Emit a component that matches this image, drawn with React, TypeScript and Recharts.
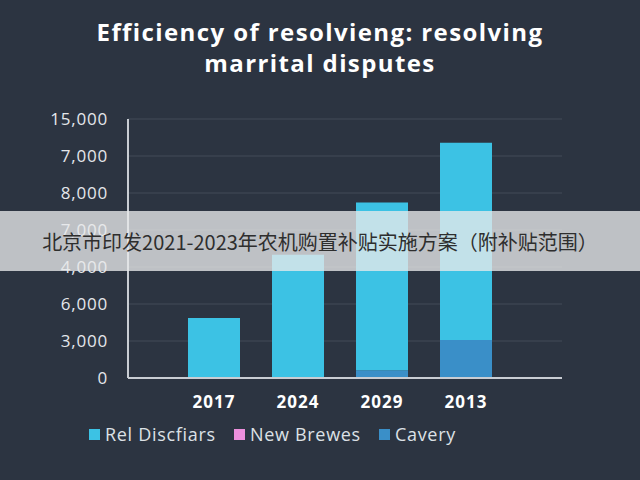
import React from "react";
import {
  BarChart,
  Bar,
  XAxis,
  YAxis,
  CartesianGrid,
} from "recharts";

const years = ["2017", "2024", "2029", "2013"];
const relDiscfiars = [1.62, 3.33, 4.53, 5.33];
const newBrewes = [0, 0, 0, 0];
const cavery = [0, 0, 0.21, 1.03];
const yTickLabels = ["0", "3,000", "6,000", "4,000", "7,000", "8,000", "7,000", "15,000"];

const series = [
  { key: "relDiscfiars", name: "Rel Discfiars", color: "#3cc2e4" },
  { key: "newBrewes", name: "New Brewes", color: "#ec8fdc" },
  { key: "cavery", name: "Cavery", color: "#3a8fc8" },
];

const data = years.map((year, i) => ({
  year,
  cavery: cavery[i],
  newBrewes: newBrewes[i],
  relDiscfiars: relDiscfiars[i],
}));

const BG = "#2c3441";
const FONT = "'Open Sans', 'DejaVu Sans', sans-serif";

export default function App() {
  return (
    <div
      style={{
        position: "fixed",
        top: 0,
        left: 0,
        width: 640,
        height: 480,
        background: BG,
        fontFamily: FONT,
        overflow: "hidden",
      }}
    >
      <div
        style={{
          position: "absolute",
          top: 16,
          left: 0,
          width: 640,
          textAlign: "center",
          color: "#ffffff",
          fontWeight: 700,
          fontSize: 24,
          letterSpacing: 1.4,
          lineHeight: "31px",
        }}
      >
        Efficiency of resolvieng: resolving
        <br />
        marrital disputes
      </div>

      <BarChart
        width={640}
        height={480}
        data={data}
        margin={{ top: 119, right: 78, left: 0, bottom: 72 }}
        barSize={52}
      >
        <CartesianGrid vertical={false} stroke="#424b59" strokeWidth={1} />
        <XAxis
          dataKey="year"
          height={30}
          padding={{ left: 44, right: 54 }}
          stroke="#c9cdd3"
          strokeWidth={2}
          tickLine={false}
          tickSize={0}
          tickMargin={18}
          tick={{
            fill: "#ffffff",
            fontSize: 17,
            fontWeight: 700,
            fontFamily: FONT,
            letterSpacing: 1,
          }}
        />
        <YAxis
          width={128}
          domain={[0, 7]}
          ticks={[0, 1, 2, 3, 4, 5, 6, 7]}
          tickFormatter={(v: number) => yTickLabels[v]}
          stroke="#c9cdd3"
          strokeWidth={2}
          tickLine={false}
          tickSize={0}
          tickMargin={20}
          tick={{ fill: "#e4e7eb", fontSize: 17, fontFamily: FONT, letterSpacing: 0.8 }}
        />
        {[...series].reverse().map((s) => (
          <Bar
            key={s.key}
            dataKey={s.key}
            name={s.name}
            stackId="a"
            fill={s.color}
            isAnimationActive={false}
          />
        ))}
      </BarChart>

      <div
        style={{
          position: "absolute",
          top: 422,
          left: 89,
          display: "flex",
          alignItems: "center",
          color: "#dde1e6",
          fontSize: 18,
          letterSpacing: 0.7,
        }}
      >
        {series.map((s) => (
          <div
            key={s.key}
            style={{ display: "flex", alignItems: "center", marginRight: 18 }}
          >
            <span
              style={{
                display: "inline-block",
                width: 11,
                height: 11,
                background: s.color,
                marginRight: 5,
              }}
            />
            {s.name}
          </div>
        ))}
      </div>

      <div
        style={{
          position: "absolute",
          top: 211,
          left: 0,
          width: 640,
          height: 60,
          background: "rgba(232, 233, 235, 0.78)",
          display: "flex",
          alignItems: "center",
          justifyContent: "center",
          color: "#2e2e2e",
          fontSize: 20,
          fontFamily: "'Noto Sans CJK SC', sans-serif",
        }}
      >
        北京市印发2021-2023年农机购置补贴实施方案（附补贴范围）
      </div>
    </div>
  );
}
